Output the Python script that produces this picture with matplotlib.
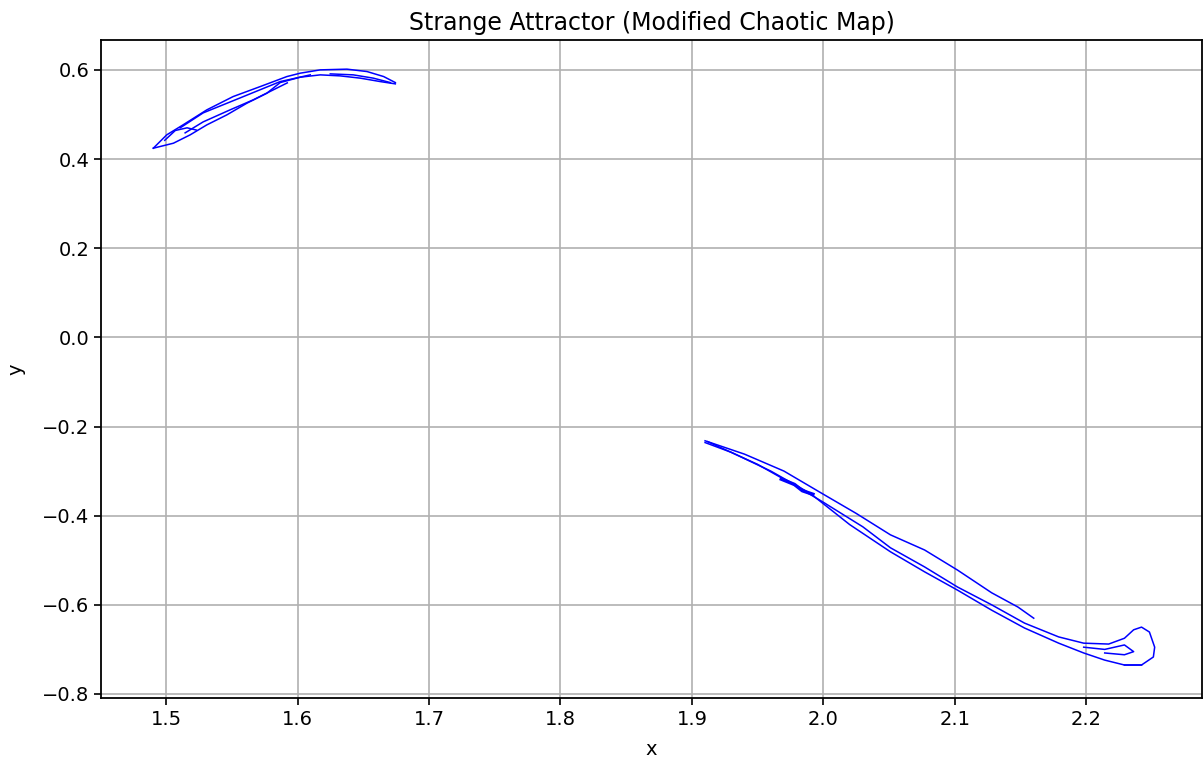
import matplotlib
matplotlib.use("Agg")
import matplotlib.pyplot as plt

# strands of the upper lobe (x, y pairs traced along each filament)
upper_top_x = [1.4903, 1.5005, 1.5129, 1.5310, 1.5510, 1.5716, 1.5919, 1.6021, 1.6173, 1.6376, 1.6529, 1.6655, 1.6744]
upper_top_y = [0.4243, 0.4542, 0.4766, 0.5103, 0.5401, 0.5625, 0.5850, 0.5926, 0.6000, 0.6016, 0.5962, 0.5850, 0.5715]

upper_bot_x = [1.6744, 1.6630, 1.6478, 1.6325, 1.6173, 1.6021, 1.5868, 1.5767, 1.5615, 1.5462, 1.5310, 1.5183, 1.5056, 1.4903]
upper_bot_y = [0.5686, 0.5737, 0.5814, 0.5865, 0.5888, 0.5836, 0.5715, 0.5477, 0.5253, 0.4990, 0.4766, 0.4542, 0.4355, 0.4243]

upper_in1_x = [1.5107, 1.5282, 1.5564, 1.5868, 1.6097]
upper_in1_y = [0.4699, 0.5035, 0.5372, 0.5737, 0.5888]

upper_in2_x = [1.5145, 1.5282, 1.5487, 1.5663, 1.5922]
upper_in2_y = [0.4587, 0.4833, 0.5103, 0.5327, 0.5708]

upper_knot_x = [1.4990, 1.5070, 1.5160, 1.5230]
upper_knot_y = [0.4420, 0.4640, 0.4700, 0.4650]

upper_loop_x = [1.6249, 1.6424, 1.6577, 1.6706]
upper_loop_y = [0.5910, 0.5888, 0.5814, 0.5715]

# strands of the lower lobe
lower_top_x = [1.910, 1.940, 1.970, 2.000, 2.025, 2.051, 2.077, 2.102, 2.128, 2.148, 2.160]
lower_top_y = [-0.232, -0.262, -0.300, -0.352, -0.395, -0.443, -0.477, -0.522, -0.573, -0.605, -0.630]

lower_mid_x = [1.912, 1.950, 1.980, 2.000, 2.030, 2.051, 2.077, 2.102, 2.128, 2.153, 2.179, 2.198, 2.217, 2.229, 2.236, 2.242, 2.248, 2.252, 2.251, 2.242, 2.229]
lower_mid_y = [-0.234, -0.285, -0.335, -0.370, -0.425, -0.472, -0.515, -0.560, -0.600, -0.641, -0.672, -0.686, -0.688, -0.675, -0.656, -0.650, -0.661, -0.695, -0.717, -0.735, -0.735]

lower_bot_x = [1.910, 1.930, 1.960, 1.990, 2.020, 2.051, 2.077, 2.102, 2.128, 2.153, 2.179, 2.198, 2.214, 2.229, 2.242]
lower_bot_y = [-0.236, -0.258, -0.300, -0.350, -0.420, -0.481, -0.526, -0.567, -0.612, -0.652, -0.686, -0.708, -0.724, -0.735, -0.735]

lower_hook_x = [2.198, 2.214, 2.229, 2.236, 2.229, 2.214]
lower_hook_y = [-0.695, -0.700, -0.690, -0.705, -0.712, -0.708]

lower_knot_x = [1.968, 1.978, 1.984, 1.992]
lower_knot_y = [-0.318, -0.330, -0.344, -0.352]

strands = [
    (upper_top_x, upper_top_y), (upper_bot_x, upper_bot_y),
    (upper_in1_x, upper_in1_y), (upper_in2_x, upper_in2_y),
    (upper_knot_x, upper_knot_y), (upper_loop_x, upper_loop_y),
    (lower_top_x, lower_top_y), (lower_mid_x, lower_mid_y),
    (lower_bot_x, lower_bot_y), (lower_hook_x, lower_hook_y),
]

fig = plt.figure(figsize=(12.03, 7.61), dpi=100)
ax = fig.add_axes([101 / 1203, 63 / 761, 1101 / 1203, 658 / 761])

for xs, ys in strands:
    ax.plot(xs, ys, color='blue', linewidth=1.1)
# thicker tangle where the lower strands cross
ax.plot(lower_knot_x, lower_knot_y, color='blue', linewidth=2.5)

ax.set_xlim(1.4505, 2.288)
ax.set_ylim(-0.809, 0.667)
ax.set_xticks([1.5, 1.6, 1.7, 1.8, 1.9, 2.0, 2.1, 2.2])
ax.set_yticks([-0.8, -0.6, -0.4, -0.2, 0.0, 0.2, 0.4, 0.6])
ax.grid(True, color='#b0b0b0', linewidth=1.2)
ax.tick_params(labelsize=14, length=5, width=1.2)
for s in ax.spines.values():
    s.set_linewidth(1.3)

ax.set_title('Strange Attractor (Modified Chaotic Map)', fontsize=17, pad=7)
ax.set_xlabel('x', fontsize=14, labelpad=8)
ax.set_ylabel('y', fontsize=14, labelpad=12)

fig.savefig('out.png', dpi=100)
